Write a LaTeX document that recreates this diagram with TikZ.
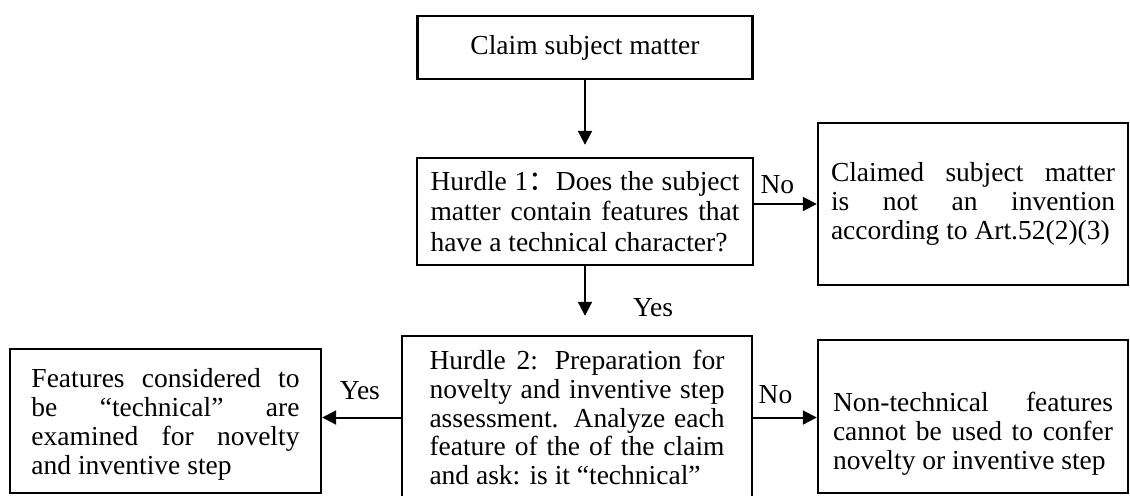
\documentclass[tikz,border=0pt]{standalone}
\usepackage{fontspec}
\setmainfont{Liberation Serif}
\newfontfamily\cjk{Noto Sans CJK SC}
\usetikzlibrary{arrows.meta,positioning}
\tolerance=10000
\hbadness=10000

\begin{document}
\begin{tikzpicture}[x=0.5pt,y=-0.5pt,
  box/.style={draw,line width=1.2pt,inner sep=2pt,align=justify,
    font=\fontsize{13.75pt}{14.5pt}\selectfont},
  flow/.style={-{Triangle[length=7pt,width=7pt]},line width=1pt},
  lab/.style={inner sep=0pt,font=\fontsize{13.75pt}{14.5pt}\selectfont}]
  \useasboundingbox (0,0) rectangle (1130,495);
  \node[box,align=center,minimum width=167.5pt,minimum height=31.5pt] (claim) at (585,47.5) {Claim subject matter};
  \node[box,text width=154.5pt,minimum width=168pt,minimum height=53.5pt,
    font=\fontsize{13.75pt}{15.3pt}\selectfont] (h1) at (585,211.5)
    {Hurdle 1{\cjk ：}Does the subject\linebreak matter contain features that\linebreak have a technical character?};
  \node[box,text width=142pt,minimum width=155pt,minimum height=81pt] (notinv) at (973,204)
    {Claimed subject matter\linebreak is not an invention\linebreak according to Art.52(2)(3)};
  \node[box,text width=147.5pt,minimum width=175pt,minimum height=81.5pt] (h2) at (577,417.5)
    {Hurdle 2: Preparation for\linebreak novelty and inventive step\linebreak assessment. Analyze each\linebreak feature of the of the claim\linebreak and ask: is it “technical”};
  \node[box,text width=134pt,minimum width=155.5pt,minimum height=72pt] (tech) at (165.5,421)
    {\rule{0pt}{13pt}Features considered to\linebreak be “technical” are\linebreak examined for novelty\linebreak and inventive step};
  \node[box,text width=140pt,minimum width=155pt,minimum height=76.5pt] (nontech) at (973,416.5)
    {\rule{0pt}{27pt}Non-technical features\linebreak cannot be used to confer\linebreak novelty or inventive step};
  \draw[flow,shorten >=6pt] (claim.south) -- (claim.south |- h1.north);
  \draw[flow] (h1.east |- notinv.west) -- node[lab,pos=0.37,above=4.5pt]{No} (notinv.west);
  \draw[flow,shorten >=9.5pt] (h1.south) -- node[lab,pos=0.6,right=23.5pt]{Yes} (h1.south |- h2.north);
  \draw[flow] (h2.east) -- node[lab,pos=0.35,above=6.5pt]{No} (h2.east -| nontech.west);
  \draw[flow] (h2.west) -- node[lab,pos=0.52,above=8.5pt]{Yes} (h2.west -| tech.east);
\end{tikzpicture}
\end{document}
